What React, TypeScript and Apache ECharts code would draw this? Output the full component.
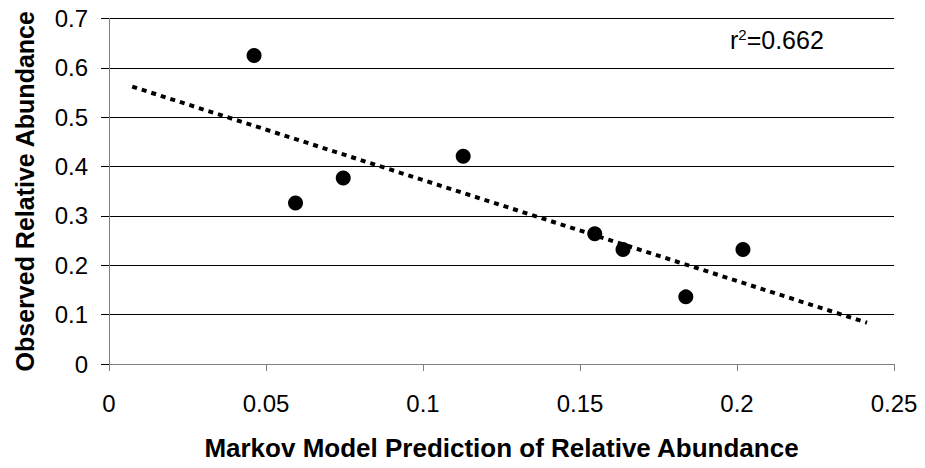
import React, { useEffect, useRef } from "react";
import * as echarts from "echarts";

const predicted = [0.0462, 0.0594, 0.0746, 0.1128, 0.1547, 0.1637, 0.1837, 0.2019];
const observed = [0.625, 0.326, 0.377, 0.421, 0.264, 0.232, 0.136, 0.232];
const trendX = [0.0074, 0.2414];
const trendY = [0.562, 0.0836];
const rSquared = "0.662";
const xTitle = "Markov Model Prediction of Relative Abundance";
const yTitle = "Observed Relative Abundance";

const FONT = "Liberation Sans, Arial, sans-serif";

export default function App() {
  const ref = useRef<HTMLDivElement>(null);
  useEffect(() => {
    if (!ref.current) return;
    const chart = echarts.init(ref.current, null, { renderer: "svg" });
    chart.setOption({
      animation: false,
      backgroundColor: "#ffffff",
      grid: { left: 109, right: 31, top: 18.5, bottom: 104, containLabel: false },
      xAxis: {
        type: "value",
        min: 0,
        max: 0.25,
        interval: 0.05,
        name: xTitle,
        nameLocation: "middle",
        nameGap: 71,
        nameTextStyle: { fontFamily: FONT, fontSize: 26, fontWeight: "bold", color: "#000" },
        axisLine: { show: true, lineStyle: { color: "#808080", width: 1 } },
        axisTick: { show: true, length: 7, lineStyle: { color: "#808080" } },
        axisLabel: {
          fontFamily: FONT,
          fontSize: 24,
          color: "#000",
          margin: 27,
          formatter: (v: number) => String(parseFloat(v.toFixed(4))),
        },
        splitLine: { show: false },
      },
      yAxis: {
        type: "value",
        min: 0,
        max: 0.7,
        interval: 0.1,
        name: yTitle,
        nameLocation: "middle",
        nameGap: 72,
        nameTextStyle: { fontFamily: FONT, fontSize: 25, fontWeight: "bold", color: "#000" },
        axisLine: { show: true, lineStyle: { color: "#808080", width: 1 } },
        axisTick: { show: true, length: 8, lineStyle: { color: "#000" } },
        axisLabel: {
          fontFamily: FONT,
          fontSize: 24,
          color: "#000",
          margin: 21,
          formatter: (v: number) => String(parseFloat(v.toFixed(4))),
        },
        splitLine: { show: true, lineStyle: { color: "#000", width: 1 } },
      },
      graphic: [
        {
          type: "text",
          left: 730,
          top: 27,
          style: {
            text: "{r|r}{s|2}{r|=" + rSquared + "}",
            rich: {
              r: { fontFamily: FONT, fontSize: 25, fill: "#000" },
              s: { fontFamily: FONT, fontSize: 15, fill: "#000", verticalAlign: "top", padding: [0, 0, 10, 0] },
            },
          },
        },
      ],
      series: [
        {
          type: "line",
          data: trendX.map((x, i) => [x, trendY[i]]),
          showSymbol: false,
          symbol: "none",
          lineStyle: { color: "#000", width: 4, type: [5, 5], cap: "butt" },
          z: 2,
        },
        {
          type: "scatter",
          data: predicted.map((x, i) => [x, observed[i]]),
          symbol: "circle",
          symbolSize: 15,
          itemStyle: { color: "#000", opacity: 1 },
          z: 3,
        },
      ],
    });
    return () => chart.dispose();
  }, []);
  return (
    <div
      ref={ref}
      style={{ position: "absolute", left: 0, top: 0, width: 925, height: 468 }}
    />
  );
}
